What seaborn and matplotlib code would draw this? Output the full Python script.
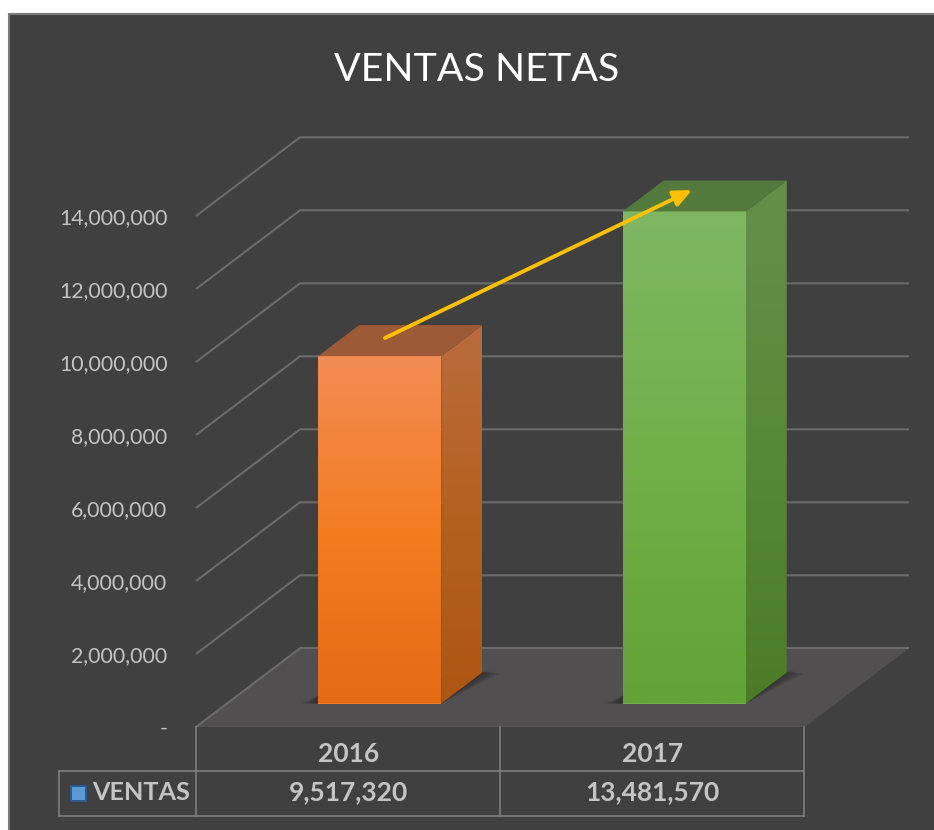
import numpy as np
import pandas as pd
import matplotlib
matplotlib.use("Agg")
import matplotlib.pyplot as plt
from matplotlib.colors import LinearSegmentedColormap
from matplotlib.patches import Polygon, Rectangle
from matplotlib.ticker import FuncFormatter, MultipleLocator
import seaborn as sns

# ---- data ----
years = ["2016", "2017"]
ventas = [9517320, 13481570]
series_name = "VENTAS"
title_text = "VENTAS NETAS"
y_max = 14000000
y_step = 2000000

# ---- styles ----
front_ramps = [["#F28C54", "#F47D22", "#E36B14"], ["#7FB763", "#72AF4A", "#62A236"]]
side_ramps = [["#BA6C3E", "#B5601F", "#AE5612"], ["#64904A", "#578A38", "#4A7C28"]]
top_colors = ["#9C5B36", "#54793C"]
mid_colors = ["#F47D22", "#72AF4A"]

sns.set_theme(style="white")
plt.rcParams["font.family"] = ["Lato", "DejaVu Sans"]

W, H = 934, 830
DARK = "#404040"
GRID = "#6B6B6B"
TXT = "#C4C4C4"
fig = plt.figure(figsize=(W / 100, H / 100), dpi=100, facecolor="white")

PX_M = 36.5              # pixels per 1,000,000
PX_CAT = 304.5           # pixels per category
dy_unit = 1e6 / PX_M     # data units per vertical pixel
dx_unit = 1 / PX_CAT     # category units per horizontal pixel


def box(left, top, w, h):
    return [left / W, 1 - (top + h) / H, w / W, h / H]


# background panel
fig.add_artist(Rectangle((8.5 / W, -0.02), 1.02, 1 - 14.5 / H + 0.02, transform=fig.transFigure,
                         facecolor=DARK, edgecolor="#7A7A7A", lw=1.5, zorder=-5))

# front plane: axis, walls, floor
ax = fig.add_axes(box(196, 216, 609, 14 * PX_M), zorder=1)
ax.patch.set_visible(False)
ax.set_xlim(-0.5, 1.5)
ax.set_ylim(0, y_max)
sns.despine(ax=ax, left=True, bottom=True)

wall_dx = 104 * dx_unit
wall_dy = 78.7 * dy_unit
ax.add_patch(Polygon([(-0.5, 0), (-0.5 + wall_dx, wall_dy), (1.5 + wall_dx, wall_dy), (1.5, 0)],
                     closed=True, facecolor="#524F50", edgecolor="none", clip_on=False, zorder=1))
ax.plot([-0.5, -0.5 + wall_dx], [0, wall_dy], color=GRID, lw=1.5, clip_on=False, zorder=2)
for v in np.arange(0, y_max + 1, y_step):
    xs = [-0.5, -0.5 + wall_dx, 1.5 + wall_dx] if v > 0 else [-0.5 + wall_dx, 1.5 + wall_dx]
    ys = [v, v + wall_dy, v + wall_dy] if v > 0 else [wall_dy, wall_dy]
    ax.plot(xs, ys, color=GRID, lw=1.5, clip_on=False, zorder=2, solid_capstyle="butt")

ax.yaxis.set_major_locator(MultipleLocator(y_step))
ax.yaxis.set_major_formatter(FuncFormatter(lambda v, _: "-" if v == 0 else f"{int(v):,}"))
ax.set_xticks([0, 1])
ax.set_xticklabels(years)
ax.tick_params(axis="y", length=0, pad=20.5, labelsize=15.3, labelcolor=TXT)
ax.tick_params(axis="x", length=0, pad=11, labelsize=19, labelcolor=TXT)
for lab in ax.get_xticklabels():
    lab.set_fontweight("bold")
ax.set_xlabel("")
ax.set_ylabel("")

# bars, on a plane set back from the front
df = pd.DataFrame({"year": years, "ventas": ventas})
axb = fig.add_axes(box(196 + 31.5, 703.5 - 16 * PX_M, 609, 16 * PX_M), zorder=2)
axb.patch.set_visible(False)
sns.barplot(data=df, x="year", y="ventas", hue="year", palette=mid_colors, width=0.404,
            legend=False, ax=axb, saturation=1, zorder=3)
axb.axis("off")


def gradient(axis, xy, colors, zorder):
    pts = np.array(xy)
    cmap = LinearSegmentedColormap.from_list("g", colors)
    im = axis.imshow(np.linspace(0, 1, 256).reshape(-1, 1), cmap=cmap, aspect="auto",
                     extent=(pts[:, 0].min(), pts[:, 0].max(), pts[:, 1].min(), pts[:, 1].max()),
                     origin="upper", zorder=zorder, interpolation="bilinear")
    im.set_clip_path(Polygon(pts, closed=True, transform=axis.transData))


depth_x = 41 * dx_unit
depth_y = 31 * dy_unit
for i, patch in enumerate(axb.patches):
    x0, x1 = patch.get_x(), patch.get_x() + patch.get_width()
    h = patch.get_height()
    patch.set_edgecolor("none")
    # soft shadow on the floor
    for k in range(5):
        g = (5 - k) * 3.4
        shadow = [(x0 - g * dx_unit, 0), (x1, 0), (x1 + depth_x + g * dx_unit, depth_y + (k - 1) * dy_unit),
                  (x1 + depth_x, depth_y), (x0, 8 * dy_unit)]
        axb.add_patch(Polygon(shadow, closed=True, facecolor="#1E1C1C", edgecolor="none",
                              alpha=0.16, clip_on=False, zorder=1))
    gradient(axb, [(x0, 0), (x1, 0), (x1, h), (x0, h)], front_ramps[i], 4)
    gradient(axb, [(x1, 0), (x1 + depth_x, depth_y), (x1 + depth_x, h + depth_y), (x1, h)], side_ramps[i], 4)
    axb.add_patch(Polygon([(x0, h), (x1, h), (x1 + depth_x, h + depth_y), (x0 + depth_x, h + depth_y)],
                          closed=True, facecolor=top_colors[i], edgecolor="none", zorder=4))
axb.set_xlim(-0.5, 1.5)
axb.set_ylim(0, 16 * PX_M * dy_unit)

# overlay in pixel units: title, data table, arrow
top = fig.add_axes([0, 0, 1, 1], zorder=3)
top.patch.set_visible(False)
top.set_xlim(0, W)
top.set_ylim(H, 0)
top.axis("off")

top.text(477, 70, title_text, ha="center", va="center", fontsize=28.4, color="white")

LINE = "#7E7E7E"
for xs, ys in [([196, 196], [727, 815.5]), ([499.5, 499.5], [727, 815.5]), ([804, 804], [727, 815.5]),
               ([58.5, 804], [770.5, 770.5]), ([58.5, 804], [815.5, 815.5]), ([58.5, 58.5], [770.5, 815.5])]:
    top.plot(xs, ys, color=LINE, lw=1.2, solid_capstyle="projecting")

top.add_patch(Rectangle((70.5, 785.5), 15, 15, facecolor="#5B9BD5", edgecolor="#2A5C92", lw=1.4))
top.text(92, 792.5, series_name, ha="left", va="center", fontsize=18.2, fontweight="bold", color=TXT)
for i, v in enumerate(ventas):
    top.text(196 + PX_CAT * (i + 0.5), 792.5, f"{v:,}", ha="center", va="center",
             fontsize=19, fontweight="bold", color=TXT)

top.annotate("", xy=(692, 190), xytext=(385, 338),
             arrowprops=dict(arrowstyle="-|>,head_length=0.6,head_width=0.27", color="#FFC000", lw=2.8,
                             shrinkA=0, shrinkB=0, mutation_scale=18))

fig.savefig("out.png", dpi=100, facecolor="white")
